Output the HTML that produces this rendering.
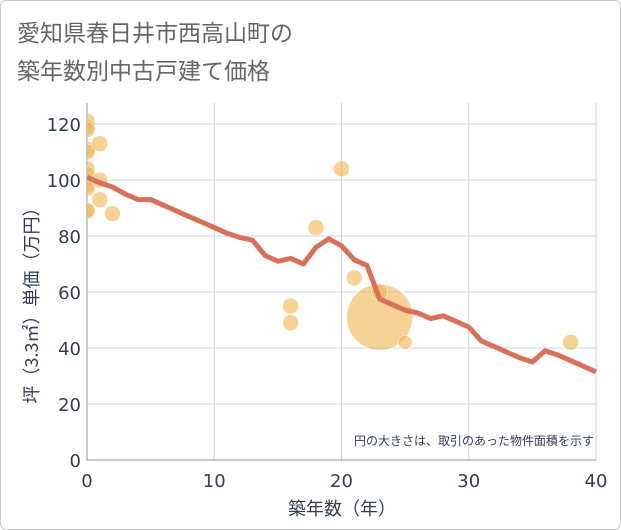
<!DOCTYPE html>
<html><head><meta charset="utf-8"><style>
body{margin:0;background:#fff;font-family:"Liberation Sans","Noto Sans CJK JP",sans-serif}
#wrap{position:relative;width:619px;height:528px;border:1px solid #ccc;border-radius:6px;overflow:hidden}
</style></head><body>
<div id="wrap">
<svg id="c" width="619" height="528">
<defs><clipPath id="pa"><rect x="86" y="102" width="510" height="357"/></clipPath></defs>
<text x="16" y="40" font-size="23" fill="#666" font-family="Noto Sans CJK JP, sans-serif">愛知県春日井市西高山町の</text>
<text x="16" y="78" font-size="23" fill="#666" font-family="Noto Sans CJK JP, sans-serif">築年数別中古戸建て価格</text>
</svg>
</div>
<script>
const xTicks=[0,10,20,30,40];
const yTicks=[0,20,40,60,80,100,120];
const ptYears=[0,0,0,0,0,0,0,0,0,0,0,1,1,1,2,16,16,18,20,21,23,23,25,38];
const ptValues=[121,119,118,111,110,104,102,98,97,89,89,113,100,93,88,55,49,83,104,65,51,60,42,42];
const ptSizes=[8,8,8,8,8,8,8,8,8,8,8,8,8,8,8,8,8,8,8,8,33,8,7,8];
const lineYears=[0,1,2,3,4,5,6,7,8,9,10,11,12,13,14,15,16,17,18,19,20,21,22,23,24,25,26,27,28,29,30,31,32,33,34,35,36,37,38,39,40];
const lineValues=[101,99,97.5,95,93,93,91,89,87,85,83,81,79.5,78.5,73,71,72,70,76,79,76.5,71.5,69.5,57.5,55.5,53.5,52.5,50.5,51.5,49.5,47.5,42.5,40.5,38.5,36.5,35,39,37.5,35.5,33.5,31.5];
const NS="http://www.w3.org/2000/svg";
const svg=document.getElementById('c');
const L=86,R=595,T=102,B=459;
const X=v=>L+(v-0)/40*(R-L);
const Y=v=>B-v/127.5*(B-T);
function mk(t,a){const e=document.createElementNS(NS,t);for(const k in a)e.setAttribute(k,a[k]);svg.appendChild(e);return e;}
yTicks.forEach(v=>{
 const g=mk('line',{x1:L,x2:R,y1:Y(v),y2:Y(v),stroke:'#c8d6e3','stroke-width':1});
 
 
 const t=mk('text',{x:L-6,y:Y(v)+7,'text-anchor':'end','font-size':18,fill:'#333f50','font-family':'DejaVu Sans, sans-serif'});t.textContent=v;
 
 
});
xTicks.forEach(v=>{
 const g=mk('line',{x1:X(v),x2:X(v),y1:T,y2:B,stroke:'#c8d6e3','stroke-width':1});
 
 
 const t=mk('text',{x:X(v),y:B+27,'text-anchor':'middle','font-size':18,fill:'#333f50','font-family':'DejaVu Sans, sans-serif'});t.textContent=v;
 
 
});
const ax=mk('path',{d:`M${L} ${T}V${B}H${R}`,stroke:'#8a96a3',fill:'none','stroke-width':1});


ptYears.forEach((yr,i)=>{
 const c=mk('circle',{cx:X(yr),cy:Y(ptValues[i]),r:ptSizes[i],fill:'rgba(240,180,80,0.6)',stroke:'#fff','stroke-width':0.5,'clip-path':'url(#pa)'});
 
 
});
const p=mk('polyline',{points:lineYears.map((y,i)=>X(y)+','+Y(lineValues[i])).join(' '),fill:'none',stroke:'#d9705a','stroke-width':5,'stroke-linejoin':'round','clip-path':'url(#pa)'});


const n=mk('text',{x:593,y:444,'text-anchor':'end','font-size':12,fill:'#333f50','font-family':'Noto Sans CJK JP, sans-serif'});n.textContent='円の大きさは、取引のあった物件面積を示す';


const xt=mk('text',{x:341,y:514,'text-anchor':'middle','font-size':18,fill:'#333f50','font-family':'Noto Sans CJK JP, sans-serif'});xt.textContent='築年数（年）';


const yt=mk('text',{x:0,y:0,'text-anchor':'middle','font-size':18,fill:'#333f50','font-family':'Noto Sans CJK JP, sans-serif',transform:'translate(37,300) rotate(-90)'});yt.textContent='坪（3.3㎡）単価（万円）';


</script>
</body></html>
